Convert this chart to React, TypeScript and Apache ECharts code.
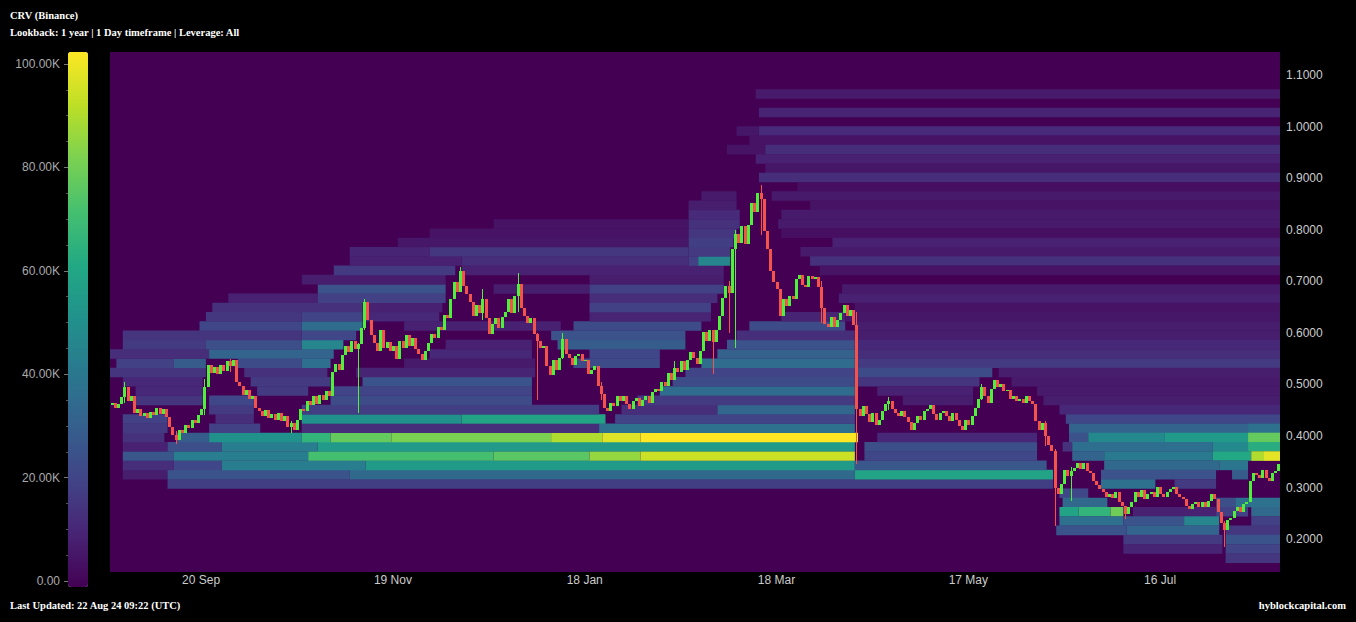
import React, { useEffect, useRef } from 'react';
import * as echarts from 'echarts';

// ---------- data ----------
const START_UTC = Date.UTC(2023, 7, 23);
const DAY_COUNT = 366;
const tickDays = [28, 88, 148, 208, 268, 328];
const tickLabels = ['20 Sep', '19 Nov', '18 Jan', '18 Mar', '17 May', '16 Jul'];
const priceTicks = [0.2, 0.3, 0.4, 0.5, 0.6, 0.7, 0.8, 0.9, 1.0, 1.1];
const PRICE_MIN = 0.1365;
const BIN_SIZE = 0.018;
const BIN_COUNT = 56;
const LIQ_MAX = 100000;

// daily closes (CRV/USDT)
const closes = [
  0.465, 0.455, 0.462, 0.475, 0.495, 0.468, 0.478, 0.445, 0.452, 0.438,
  0.445, 0.435, 0.447, 0.44, 0.455, 0.443, 0.452, 0.436, 0.418, 0.402,
  0.392, 0.412, 0.405, 0.422, 0.415, 0.432, 0.425, 0.44, 0.452, 0.495,
  0.538, 0.522, 0.533, 0.52, 0.538, 0.526, 0.545, 0.535, 0.548, 0.505,
  0.498, 0.48, 0.49, 0.472, 0.478, 0.455, 0.448, 0.438, 0.45, 0.435,
  0.443, 0.432, 0.445, 0.43, 0.438, 0.418, 0.425, 0.412, 0.432, 0.452,
  0.448, 0.468, 0.46, 0.478, 0.462, 0.48, 0.47, 0.488, 0.478, 0.525,
  0.54, 0.528, 0.558, 0.575, 0.562, 0.585, 0.568, 0.578, 0.61, 0.66,
  0.625, 0.595, 0.58, 0.565, 0.605, 0.57, 0.582, 0.565, 0.575, 0.55,
  0.585, 0.57, 0.595, 0.575, 0.59, 0.568, 0.56, 0.548, 0.565, 0.58,
  0.598, 0.59, 0.612, 0.605, 0.635, 0.628, 0.665, 0.698, 0.68, 0.72,
  0.69, 0.675, 0.66, 0.632, 0.655, 0.638, 0.665, 0.628, 0.598, 0.618,
  0.628, 0.61, 0.63, 0.64, 0.665, 0.638, 0.672, 0.695, 0.648, 0.632,
  0.62, 0.628, 0.598, 0.585, 0.57, 0.575, 0.535, 0.518, 0.548, 0.528,
  0.552, 0.588, 0.56, 0.552, 0.538, 0.555, 0.56, 0.545, 0.548, 0.52,
  0.528, 0.535, 0.498, 0.482, 0.455, 0.448, 0.465, 0.458, 0.478, 0.468,
  0.478, 0.462, 0.452, 0.468, 0.474, 0.458, 0.47, 0.478, 0.465, 0.485,
  0.492, 0.488, 0.505, 0.498, 0.522, 0.508, 0.532, 0.525, 0.545, 0.528,
  0.548, 0.562, 0.552, 0.54, 0.565, 0.602, 0.585, 0.605, 0.582, 0.605,
  0.632, 0.668, 0.69, 0.678, 0.762, 0.792, 0.775, 0.808, 0.772, 0.81,
  0.852, 0.835, 0.872, 0.86, 0.798, 0.762, 0.72, 0.698, 0.685, 0.632,
  0.665, 0.652, 0.672, 0.665, 0.705, 0.712, 0.692, 0.688, 0.71, 0.705,
  0.708, 0.688, 0.648, 0.618, 0.612, 0.63, 0.612, 0.625, 0.638, 0.655,
  0.632, 0.645, 0.615, 0.452, 0.438, 0.458, 0.442, 0.428, 0.445, 0.422,
  0.432, 0.448, 0.462, 0.468, 0.452, 0.445, 0.438, 0.448, 0.436, 0.428,
  0.412, 0.425, 0.438, 0.432, 0.448, 0.452, 0.46, 0.442, 0.432, 0.445,
  0.448, 0.438, 0.43, 0.445, 0.432, 0.42, 0.412, 0.432, 0.422, 0.438,
  0.455, 0.472, 0.495, 0.478, 0.465, 0.492, 0.508, 0.495, 0.5, 0.488,
  0.49, 0.472, 0.478, 0.468, 0.472, 0.465, 0.478, 0.468, 0.462, 0.43,
  0.412, 0.425, 0.4, 0.382, 0.372, 0.3, 0.288, 0.308, 0.335, 0.322,
  0.332, 0.338, 0.348, 0.336, 0.348, 0.332, 0.328, 0.312, 0.306, 0.298,
  0.292, 0.282, 0.288, 0.28, 0.292, 0.272, 0.265, 0.248, 0.262, 0.272,
  0.292, 0.282, 0.295, 0.278, 0.288, 0.292, 0.282, 0.302, 0.288, 0.282,
  0.292, 0.298, 0.302, 0.288, 0.282, 0.278, 0.265, 0.258, 0.268, 0.272,
  0.262, 0.272, 0.262, 0.275, 0.288, 0.278, 0.252, 0.232, 0.218, 0.238,
  0.242, 0.255, 0.262, 0.252, 0.268, 0.272, 0.312, 0.328, 0.325, 0.318,
  0.335, 0.318, 0.312, 0.328, 0.332, 0.345,
];
const firstOpen = 0.46;

// notable wicks: [day, low, high]
const wicks = [
  [4, 0.465, 0.505], [20, 0.385, 0.41], [29, 0.44, 0.51], [37, 0.525, 0.55],
  [77, 0.445, 0.58], [79, 0.605, 0.665], [109, 0.68, 0.728], [116, 0.625, 0.685],
  [127, 0.64, 0.716], [133, 0.47, 0.6], [188, 0.52, 0.6], [193, 0.6, 0.7],
  [195, 0.57, 0.8], [203, 0.79, 0.887], [233, 0.345, 0.64], [295, 0.225, 0.375],
  [300, 0.275, 0.34], [317, 0.24, 0.265], [348, 0.185, 0.235],
  [56, 0.405, 0.43], [141, 0.55, 0.6], [153, 0.47, 0.505], [176, 0.52, 0.545],
  [222, 0.62, 0.7], [243, 0.45, 0.475], [272, 0.47, 0.5], [292, 0.38, 0.43],
];

// liquidation bands: [price bin, first day, end day (exclusive), liquidity in K]
const bands = [
  // lower left, bright levels
  [9, 18, 295, 18],
  [10, 4, 18, 8], [10, 18, 75, 26], [10, 75, 233, 34], [10, 233, 295, 58],
  [11, 4, 20, 13], [11, 20, 35, 21], [11, 35, 80, 42], [11, 80, 233, 54], [11, 233, 293, 27],
  [12, 4, 20, 27], [12, 20, 62, 42], [12, 62, 120, 70], [12, 120, 150, 74], [12, 150, 166, 84], [12, 166, 233, 92], [12, 236, 290, 21],
  [13, 4, 18, 9], [13, 18, 35, 24], [13, 35, 65, 42], [13, 65, 233, 54], [13, 236, 290, 24],
  [14, 4, 17, 14], [14, 21, 31, 29], [14, 31, 60, 50], [14, 60, 69, 65], [14, 69, 88, 76], [14, 88, 138, 80],
  [14, 138, 154, 88], [14, 154, 166, 95], [14, 166, 234, 100], [14, 240, 290, 11],
  // middle levels
  [15, 4, 18, 17], [15, 31, 47, 19], [15, 60, 153, 13], [15, 153, 233, 37],
  [16, 4, 18, 19], [16, 33, 45, 13], [16, 60, 110, 50], [16, 110, 155, 58], [16, 158, 233, 20],
  [17, 31, 45, 17], [17, 60, 153, 18], [17, 160, 190, 13], [17, 190, 233, 33],
  [18, 8, 29, 15], [18, 31, 45, 21], [18, 69, 132, 23], [18, 165, 233, 17],
  [19, 8, 29, 11], [19, 46, 62, 17], [19, 69, 132, 20], [19, 172, 233, 35],
  [20, 4, 29, 11], [20, 44, 69, 17], [20, 79, 132, 26], [20, 176, 233, 23],
  [21, 0, 30, 15], [21, 42, 68, 14], [21, 77, 133, 10], [21, 180, 233, 20],
  [22, 2, 20, 19], [22, 20, 30, 29], [22, 40, 60, 23], [22, 60, 69, 36], [22, 92, 133, 7], [22, 145, 172, 23], [22, 185, 233, 35],
  [23, 0, 31, 13], [23, 31, 70, 32], [23, 100, 132, 11], [23, 150, 172, 21], [23, 190, 233, 31],
  [24, 4, 30, 17], [24, 30, 60, 24], [24, 60, 73, 45], [24, 105, 132, 9], [24, 140, 180, 29], [24, 193, 233, 25],
  [25, 4, 60, 15], [25, 60, 77, 21], [25, 138, 180, 25], [25, 196, 233, 13],
  [26, 28, 60, 21], [26, 60, 79, 35], [26, 92, 141, 9], [26, 145, 185, 23], [26, 200, 230, 23],
  [27, 30, 60, 16], [27, 60, 79, 20], [27, 80, 103, 11], [27, 150, 188, 10], [27, 210, 230, 10],
  [28, 32, 79, 14], [28, 80, 104, 9], [28, 150, 188, 19],
  [29, 37, 65, 9], [29, 65, 105, 19], [29, 150, 190, 13],
  [30, 65, 105, 25], [30, 120, 150, 8], [30, 150, 192, 19],
  [31, 60, 105, 8], [31, 150, 192, 8],
  [32, 70, 108, 17], [32, 110, 192, 9],
  [33, 75, 110, 9], [33, 110, 181, 13], [33, 181, 184, 19], [33, 184, 194, 45],
  [34, 75, 100, 10], [34, 100, 181, 16], [34, 181, 194, 17],
  [35, 90, 181, 6], [35, 181, 195, 18],
  [36, 100, 181, 5], [36, 181, 196, 16],
  [37, 120, 181, 5], [37, 181, 197, 14],
  [38, 181, 197, 12], [39, 181, 196, 8], [40, 185, 196, 7],
  // upper levels after the March top
  [51, 202, 366, 7], [49, 203, 366, 10], [47, 196, 203, 6], [47, 203, 366, 12],
  [46, 200, 366, 5], [45, 193, 205, 5], [45, 205, 366, 13], [44, 202, 366, 9],
  [43, 205, 366, 6], [42, 203, 366, 13], [41, 215, 366, 4], [40, 207, 366, 7],
  [39, 219, 366, 5], [38, 210, 366, 7], [37, 209, 366, 7], [36, 210, 366, 4],
  [35, 226, 366, 9], [34, 216, 366, 7], [33, 219, 366, 14], [32, 222, 366, 5],
  [30, 229, 366, 7],
  // after the April drop
  [29, 228, 366, 9], [28, 233, 366, 5], [27, 230, 366, 6], [26, 233, 366, 8],
  [25, 234, 366, 8], [24, 233, 366, 11], [23, 234, 366, 13], [22, 234, 366, 17],
  [21, 234, 276, 23], [21, 278, 366, 8], [20, 234, 272, 15], [20, 282, 366, 7],
  [19, 240, 270, 9], [19, 290, 366, 7], [18, 248, 270, 8], [18, 292, 366, 8],
  [17, 297, 366, 11], [16, 299, 366, 21], [15, 300, 356, 32], [15, 356, 366, 37],
  [14, 300, 306, 25], [14, 306, 330, 47], [14, 330, 356, 54], [14, 356, 366, 76],
  [13, 298, 301, 14], [13, 301, 345, 36], [13, 345, 356, 47], [13, 356, 366, 62],
  [12, 301, 311, 32], [12, 311, 345, 41], [12, 345, 357, 60], [12, 357, 361, 88], [12, 361, 366, 96],
  [11, 311, 347, 34], [11, 347, 356, 39],
  [10, 310, 346, 25], [10, 351, 356, 29],
  [9, 310, 327, 37], [9, 333, 346, 17],
  [8, 297, 306, 21],
  [7, 298, 312, 34], [7, 346, 352, 24], [7, 352, 366, 37],
  [6, 297, 303, 58], [6, 303, 313, 65], [6, 313, 317, 78], [6, 320, 346, 9], [6, 346, 356, 19], [6, 357, 366, 34],
  [5, 297, 317, 37], [5, 317, 336, 26], [5, 336, 347, 45], [5, 357, 366, 19],
  [4, 296, 318, 26], [4, 318, 347, 32], [4, 349, 366, 16],
  [3, 317, 348, 17], [3, 349, 366, 26],
  [2, 317, 348, 10], [2, 349, 366, 20],
  [1, 349, 366, 16],
];

const viridis = ['#440154', '#482475', '#414487', '#355f8d', '#2a788e', '#21918c', '#22a884', '#44bf70', '#7ad151', '#bddf26', '#fde725'];
const UP = '#4ef03c';
const DOWN = '#f5524c';

// ---------- component ----------
export default function App() {
  const ref = useRef<HTMLDivElement>(null);

  useEffect(() => {
    if (!ref.current) return;
    const chart = echarts.init(ref.current, null, { renderer: 'svg' });

    const categories: string[] = [];
    for (let i = 0; i < DAY_COUNT; i++) {
      const d = new Date(START_UTC + i * 86400000);
      categories.push(d.toISOString().slice(0, 10));
    }

    const wickMap = new Map<number, number[]>();
    wicks.forEach((w) => wickMap.set(w[0], [w[1], w[2]]));
    const candles = closes.map((c, i) => {
      const o = i === 0 ? firstOpen : closes[i - 1];
      const w = wickMap.get(i);
      const lo = w ? Math.min(w[0], o, c) : Math.min(o, c);
      const hi = w ? Math.max(w[1], o, c) : Math.max(o, c);
      return [i, o, c, lo, hi];
    });

    const heat = bands.map((b) => [
      b[1], b[2] - 1,
      PRICE_MIN + b[0] * BIN_SIZE, PRICE_MIN + (b[0] + 1) * BIN_SIZE,
      b[3] * 1000,
    ]);

    const axisFont = 'Liberation Sans, Arial, sans-serif';
    const serif = 'Liberation Serif, Times New Roman, serif';

    chart.setOption({
      animation: false,
      backgroundColor: '#000000',
      grid: [
        { left: 110, right: 76, top: 52, bottom: 50, show: true, backgroundColor: '#440154', borderWidth: 0 },
        { left: 68, width: 20, top: 64, bottom: 41, show: false },
      ],
      xAxis: [
        {
          type: 'category', gridIndex: 0, data: categories, boundaryGap: true,
          axisLine: { show: false }, axisTick: { show: false }, splitLine: { show: false },
          axisLabel: {
            color: '#cccccc', fontSize: 12, fontFamily: axisFont, margin: 2,
            interval: (index: number) => tickDays.includes(index),
            formatter: (_v: string, index: number) => {
              const k = tickDays.indexOf(index);
              return k >= 0 ? tickLabels[k] : '';
            },
          },
        },
        { type: 'value', gridIndex: 1, show: false, min: 0, max: 1 },
      ],
      yAxis: [
        {
          type: 'value', gridIndex: 0, position: 'right', min: PRICE_MIN, max: PRICE_MIN + BIN_COUNT * BIN_SIZE,
          axisLine: { show: false }, axisTick: { show: false }, splitLine: { show: false },
          axisLabel: {
            customValues: priceTicks, color: '#cccccc', fontSize: 12, fontFamily: axisFont, margin: 6,
            formatter: (v: number) => v.toFixed(4),
          },
        },
        {
          type: 'value', gridIndex: 1, position: 'left', min: 0, max: LIQ_MAX, interval: 20000,
          axisLine: { show: false },
          axisTick: { show: true, length: 4, lineStyle: { color: '#777' } },
          minorTick: { show: true, splitNumber: 4, length: 2, lineStyle: { color: '#555' } },
          splitLine: { show: false },
          axisLabel: {
            color: '#aaaaaa', fontSize: 12, fontFamily: axisFont, margin: 8,
            formatter: (v: number) => (v === 0 ? '0.00' : (v / 1000).toFixed(2) + 'K'),
          },
        },
      ],
      visualMap: {
        type: 'continuous', min: 0, max: LIQ_MAX, dimension: 4, seriesIndex: 0,
        calculable: false, left: 68, top: 52, itemWidth: 20, itemHeight: 535,
        padding: 0, showLabel: false, hoverLink: false,
        inRange: { color: viridis },
      },
      series: [
        {
          type: 'custom', xAxisIndex: 0, yAxisIndex: 0, data: heat, clip: true, z: 1,
          encode: { x: [0, 1], y: [2, 3] },
          renderItem: (_p: any, api: any) => {
            const s = api.value(0), e = api.value(1), lo = api.value(2), hi = api.value(3);
            const bw = api.size([1, 0])[0];
            const a = api.coord([s, hi]);
            const b = api.coord([e, lo]);
            const x1 = a[0] - bw / 2;
            const x2 = b[0] + bw / 2;
            return {
              type: 'rect',
              shape: { x: x1, y: a[1], width: x2 - x1, height: b[1] - a[1] + 0.3 },
              style: { fill: api.visual('color') },
            };
          },
        },
        {
          type: 'custom', xAxisIndex: 0, yAxisIndex: 0, data: candles, clip: true, z: 3,
          encode: { x: 0, y: [1, 2, 3, 4] },
          renderItem: (_p: any, api: any) => {
            const i = api.value(0);
            const o = api.value(1), c = api.value(2), l = api.value(3), h = api.value(4);
            const po = api.coord([i, o]);
            const pc = api.coord([i, c]);
            const pl = api.coord([i, l]);
            const ph = api.coord([i, h]);
            const x = Math.round(po[0]);
            const color = c >= o ? UP : DOWN;
            const top = Math.round(Math.min(po[1], pc[1]));
            const bot = Math.round(Math.max(po[1], pc[1]));
            const wt = Math.round(ph[1]);
            const wb = Math.round(pl[1]);
            return {
              type: 'group',
              children: [
                { type: 'rect', shape: { x: x, y: wt, width: 1, height: Math.max(1, wb - wt) }, style: { fill: color } },
                { type: 'rect', shape: { x: x - 1, y: top, width: 3, height: Math.max(1, bot - top) }, style: { fill: color } },
              ],
            };
          },
        },
      ],
      graphic: [
        { type: 'text', left: 10, top: 10, style: { text: 'CRV (Binance)', fill: '#ffffff', font: `bold 10.5px ${serif}` } },
        { type: 'text', left: 10, top: 27, style: { text: 'Lookback: 1 year | 1 Day timeframe | Leverage: All', fill: '#ffffff', font: `bold 10.5px ${serif}` } },
        { type: 'text', left: 10, top: 600, style: { text: 'Last Updated: 22 Aug 24 09:22 (UTC)', fill: '#ffffff', font: `bold 10.5px ${serif}` } },
        { type: 'text', right: 10, top: 600, style: { text: 'hyblockcapital.com', fill: '#ffffff', font: `bold 10.5px ${serif}` } },
      ],
    });

    return () => chart.dispose();
  }, []);

  return <div ref={ref} style={{ position: 'fixed', left: 0, top: 0, width: 1356, height: 622, background: '#000' }} />;
}
